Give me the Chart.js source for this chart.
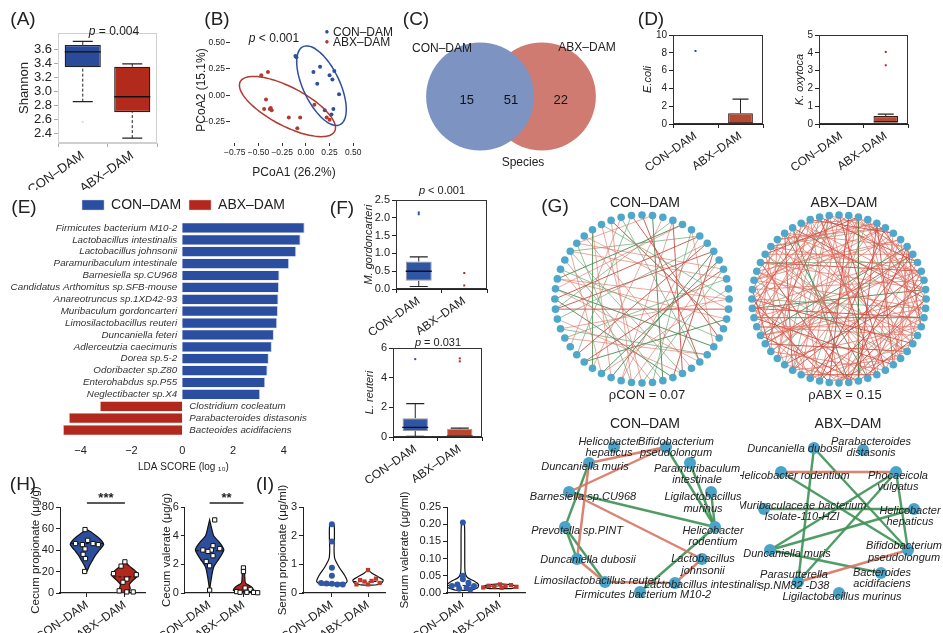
<!DOCTYPE html>
<html><head><meta charset="utf-8">
<script src="https://cdn.jsdelivr.net/npm/chart.js@4.4.1/dist/chart.umd.min.js"></script>
<style>
body{margin:0;background:#fff;}
#fig{position:relative;width:943px;height:633px;overflow:hidden;font-family:"Liberation Sans",Arial,sans-serif;color:#222;}
#fig canvas{position:absolute;}
.t{position:absolute;white-space:nowrap;transform:translate(-50%,-50%);line-height:1;}
.l{position:absolute;white-space:nowrap;transform:translate(0,-50%);line-height:1;}
</style></head><body><div id="fig"></div>
<script>
var groups = ['CON–DAM', 'ABX–DAM'];

// (A) Shannon box plot
var shQ1 = [3.35, 2.71], shMed = [3.57, 2.93], shQ3 = [3.67, 3.36];
var shLo = [2.86, 2.34], shHi = [3.72, 3.40], shOut = [[2.57], []];
var shTicks = [2.4, 2.6, 2.8, 3.0, 3.2, 3.4, 3.6];

// (B) PCoA
var pcConX = [-0.11, -0.10, 0.15, 0.08, 0.30, 0.25, 0.28, 0.12, 0.35, 0.29, 0.20, 0.27];
var pcConY = [0.37, 0.36, 0.27, 0.22, 0.23, 0.19, 0.15, 0.11, 0.01, -0.13, -0.14, -0.18];
var pcAbxX = [-0.47, -0.40, -0.42, -0.44, -0.37, -0.36, -0.38, -0.18, -0.06, -0.09, 0.09, 0.22, 0.25];
var pcAbxY = [0.19, 0.22, -0.04, -0.13, -0.12, -0.14, -0.13, -0.21, -0.21, -0.31, -0.09, -0.21, -0.23];
var pcTicksX = [-0.75, -0.5, -0.25, 0, 0.25, 0.5];
var pcTicksY = [-0.25, 0, 0.25, 0.5];
// ellipse: centre x, centre y, semi-axis 1 (dx, dy), semi-axis 2 (dx, dy)
var ellCon = [0.165, 0.091, 0.194, -0.368, -0.175, -0.073];
var ellAbx = [-0.194, -0.106, 0.4975, -0.2347, -0.0958, -0.16];

// (C) Venn
var vennCounts = [15, 51, 22];

// (D) E. coli / K. oxytoca
var ecQ1 = [0, 0.05], ecMed = [0, 0.08], ecQ3 = [0, 1.2], ecLo = [0, 0.05], ecHi = [0, 2.8], ecOut = [[8.2], []];
var koQ1 = [0, 0.1], koMed = [0, 0.12], koQ3 = [0, 0.45], koLo = [0, 0.1], koHi = [0, 0.55], koOut = [[], [3.3, 4.05]];
var ecTicks = [0, 2, 4, 6, 8, 10], koTicks = [0, 1, 2, 3, 4, 5];

// (E) LEfSe
var ldaTaxa = ['Firmicutes bacterium M10-2', 'Lactobacillus intestinalis', 'Lactobacillus johnsonii',
  'Paramuribaculum intestinale', 'Barnesiella sp.CU968', 'Candidatus Arthomitus sp.SFB-mouse',
  'Anareotruncus sp.1XD42-93', 'Muribaculum gordoncarteri', 'Limosilactobacillus reuteri',
  'Duncaniella feteri', 'Adlerceutzia caecimuris', 'Dorea sp.5-2', 'Odoribacter sp.Z80',
  'Enterohabdus sp.P55', 'Neglectibacter sp.X4', 'Clostridium cocleatum',
  'Parabacteroides distasonis', 'Bacteoides acidifaciens'];
var ldaScore = [4.82, 4.66, 4.49, 4.21, 3.83, 3.81, 3.79, 3.77, 3.74, 3.61, 3.53, 3.41, 3.36, 3.27, 3.07, -3.25, -4.47, -4.70];
var ldaTicks = [-4, -2, 0, 2, 4];

// (F) M. gordoncarteri / L. reuteri
var mgQ1 = [0.23, 0], mgMed = [0.5, 0], mgQ3 = [0.77, 0.02], mgLo = [0.07, 0], mgHi = [0.9, 0.02], mgOut = [[2.1, 2.15], [0.45, 0.1]];
var lrQ1 = [0.4, 0.02], lrMed = [0.65, 0.05], lrQ3 = [1.27, 0.55], lrLo = [0.05, 0], lrHi = [2.25, 0.6], lrOut = [[5.25], [5.1, 5.3]];
var mgTicks = [0, 0.5, 1, 1.5, 2, 2.5], lrTicks = [0, 2, 4, 6];

// (G) co-occurrence rings
var conRing = 52, abxRing = 56;
var conRed = '0 20,2 31,4 40,5 18,7 33,9 27,11 44,12 30,14 38,16 49,19 35,21 46,23 8,25 42,28 3,29 47,32 10,34 50,36 13,37 22,39 6,41 15,45 1,48 26,51 17,6 28,10 45,13 41,22 3,30 44,40 20,46 14,8 38,27 49';
var conGreen = '1 24,3 38,6 44,8 29,11 35,13 48,15 32,17 42,20 50,23 39,25 5,27 45,30 9,33 51,36 19,41 4,44 22,47 31,49 16,7 37,10 26,18 40,24 43';
var abxRed = '0 23,0 31,0 40,1 18,1 29,1 44,2 15,2 33,2 47,3 21,3 38,3 52,4 26,4 35,4 49,5 17,5 30,5 42,6 24,6 39,6 53,7 19,7 33,7 45,8 27,8 36,8 50,9 22,9 31,9 41,10 28,10 37,10 54,11 25,11 40,11 48,12 30,12 43,12 55,13 20,13 34,13 46,14 29,14 38,14 51,15 27,15 44,16 32,16 41,16 52,17 35,17 48,18 26,18 39,19 31,19 50,20 37,20 45,21 33,21 53,22 40,22 47,23 36,23 54,24 32,24 49,25 43,25 55,26 38,27 46,28 41,28 53,29 42,30 51,31 45,32 47,33 50,34 44,35 52,36 49,37 55,38 48,39 54,40 51,41 53,42 55,43 2,44 7,46 11,48 4,50 13,52 19,54 24,55 6,0 12,3 14,8 17,20 29,26 34,30 39,36 43,45 53,12 23,18 45,22 4,27 1,1 9,2 10,4 12,5 44,7 28,9 47,11 33,13 52,15 38,16 3,19 42,21 8,23 48,25 11,28 14,30 2,32 55,34 6,37 9,39 17,41 24,43 50,46 27,49 5,51 20,53 35';
var abxGreen = '2 26,5 48,9 36,13 41,17 28,21 44,25 50,31 3,34 54,38 8,42 15,47 20,51 27,55 33,10 46,40 16';

// (G) key-taxa sub-networks (layout coordinates inside each panel)
var conNames = ['Helicobacter\nhepaticus', 'Bifidobacterium\npseudolongum', 'Duncaniella muris', 'Paramuribaculum\nintestinale',
  'Barnesiella sp.CU968', 'Ligilactobacillus\nmurinus', 'Prevotella sp.PINT', 'Helicobacter\nrodentium',
  'Duncaniella dubosii', 'Lactobacillus\njohnsonii', 'Limosilactobacillus reuteri', 'Lactobacillus intestinalis',
  'Firmicutes bacterium M10-2'];
var conNodeX = [84, 136, 59, 160, 39, 181, 35, 185, 47, 172, 75, 145, 110];
var conNodeY = [12, 12, 28, 28, 57, 57, 92, 92, 124, 124, 147, 148, 157];
var conLabX = [79, 146, 55, 167, 53, 173, 47, 183, 58, 173, 67, 173, 113];
var conLabY = [12.5, 12.5, 32, 39.5, 62, 68, 96, 101.5, 125, 130, 146, 150, 160];
var conLinks = [[2, 1, -1], [4, 1, -1], [2, 8, -1], [8, 10, -1], [10, 11, -1], [11, 9, -1], [4, 9, -1],
  [2, 6, 1], [4, 7, 1], [1, 7, 1], [3, 7, 1], [5, 7, 1], [6, 8, 1], [6, 10, 1], [7, 12, 1]];
var abxNames = ['Duncaniella dubosii', 'Parabacteroides\ndistasonis', 'Helicobacter rodentium', 'Phocaeicola\nvulgatus',
  'Muribaculaceae bacterium\nIsolate-110-HZI', 'Helicobacter\nhepaticus', 'Duncaniella muris', 'Bifidobacterium\npseudolongum',
  'Parasutterella\nsp.NM82 -D38', 'Bacteroides\nacidifaciens', 'Ligilactobacillus murinus'];
var abxNodeX = [74, 123, 41, 156, 24, 174, 30, 168, 58, 141, 99];
var abxNodeY = [13, 15, 37, 37, 74, 74, 115, 115, 147, 138, 158];
var abxLabX = [55, 131, 53, 158, 62, 170, 47, 164, 54, 142, 102];
var abxLabY = [14, 12.5, 41, 46.5, 76.5, 81.5, 119, 117, 145.5, 143.5, 162];
var abxLinks = [[2, 3, -1], [8, 7, -1], [0, 8, 1], [0, 7, 1], [2, 7, 1], [6, 9, 1], [4, 5, 1], [3, 6, 1], [3, 8, 1], [3, 7, 1], [5, 6, 1]];

// (H) caecal SCFA
var cpCon = [59, 49, 46, 45, 46, 45, 41, 36, 32, 20];
var cpConDx = [-0.05, 0.02, -0.3, -0.12, 0.16, 0.3, -0.05, -0.1, -0.04, -0.06];
var cpAbx = [29, 25, 18, 17, 13, 10, 2, 1, 1];
var cpAbxDx = [0, -0.1, -0.3, 0.3, 0.05, -0.05, -0.15, 0.05, 0.22];
var cpShape = [[[20, 0], [25, 0.06], [30, 0.14], [35, 0.22], [40, 0.33], [45, 0.44], [49, 0.38], [53, 0.25], [57, 0.1], [59, 0]],
  [[0, 0.08], [4, 0.14], [8, 0.12], [12, 0.22], [17, 0.36], [21, 0.26], [25, 0.12], [29, 0]]];
var cpMed = [46, 15];
var cvCon = [5.1, 3.3, 3.1, 3.0, 3.0, 2.9, 2.6, 2.2, 1.9, 0.2];
var cvConDx = [0.15, 0.1, 0.3, -0.2, 0.05, -0.05, 0.1, -0.1, 0, 0];
var cvAbx = [1.75, 1.5, 0.35, 0.25, 0.1, 0.05, 0.05, 0.04, 0.02];
var cvAbxDx = [0, 0, 0.05, 0.2, -0.2, 0.1, -0.1, 0.3, 0.42];
var cvShape = [[[0.2, 0], [1, 0.05], [1.8, 0.12], [2.4, 0.28], [3, 0.42], [3.5, 0.3], [4, 0.12], [4.6, 0.05], [5.1, 0]],
  [[0, 0.12], [0.2, 0.3], [0.45, 0.22], [0.7, 0.06], [1.1, 0.04], [1.5, 0.03], [1.75, 0]]];
var cvMed = [2.95, 0.1];

// (I) serum SCFA
var spCon = [2.4, 1.8, 0.88, 0.6, 0.35, 0.33, 0.32, 0.3, 0.3];
var spConDx = [0, 0, 0, 0, -0.3, -0.15, 0, 0.15, 0.3];
var spAbx = [0.8, 0.5, 0.45, 0.42, 0.4, 0.35, 0.3, 0.3];
var spAbxDx = [0, 0.22, -0.22, 0.1, -0.1, 0.32, -0.32, 0];
var spShape = [[[0.28, 0.3], [0.4, 0.42], [0.6, 0.36], [0.9, 0.2], [1.2, 0.08], [1.5, 0.06], [2.0, 0.07], [2.38, 0.06], [2.42, 0]],
  [[0.28, 0.2], [0.35, 0.38], [0.45, 0.42], [0.55, 0.3], [0.7, 0.1], [0.8, 0]]];
var spMed = [0.35, 0.4];
var svCon = [0.205, 0.05, 0.04, 0.03, 0.025, 0.02, 0.02, 0.015, 0.012, 0.01];
var svConDx = [0, 0, 0, 0.15, -0.15, 0.3, -0.3, 0.1, -0.1, 0.2];
var svAbx = [0.025, 0.023, 0.021, 0.02, 0.019, 0.018, 0.016, 0.015];
var svAbxDx = [0, 0.3, -0.3, 0.15, -0.15, 0.45, -0.45, 0.05];
var svShape = [[[0.008, 0.2], [0.015, 0.4], [0.025, 0.42], [0.035, 0.3], [0.045, 0.12], [0.06, 0.06], [0.1, 0.05], [0.16, 0.05], [0.2, 0.04], [0.205, 0]],
  [[0.013, 0.3], [0.018, 0.45], [0.023, 0.35], [0.027, 0]]];
var svMed = [0.022, 0.02];

var FONT = '"Liberation Sans", Arial, sans-serif';
Chart.defaults.font.family = FONT;
Chart.defaults.color = '#222';
Chart.defaults.animation = false;
Chart.defaults.responsive = false;
Chart.defaults.layout.autoPadding = false;
Chart.defaults.plugins.legend.display = false;
Chart.defaults.plugins.tooltip.enabled = false;

var fig = document.getElementById('fig');

function mk(left, top, w, h) {
  var c = document.createElement('canvas');
  c.width = w; c.height = h;
  c.style.left = left + 'px'; c.style.top = top + 'px';
  c.style.width = w + 'px'; c.style.height = h + 'px';
  fig.appendChild(c);
  return c;
}
function txt(x, y, html, size, cls, extra) {
  var d = document.createElement('div');
  d.className = cls || 't';
  d.style.left = x + 'px'; d.style.top = y + 'px';
  d.style.fontSize = size + 'px';
  if (extra) d.style.cssText += extra;
  d.innerHTML = html;
  fig.appendChild(d);
}
function minus(v, dec) { return (dec == null ? String(v) : v.toFixed(dec)).replace('-', '−'); }

// frame around the plotting area
Chart.register({
  id: 'frame',
  afterDraw: function (c, a, o) {
    if (!o || !o.color) return;
    var ca = c.chartArea, x = c.ctx;
    x.save(); x.strokeStyle = o.color; x.lineWidth = 1;
    x.strokeRect(ca.left + 0.5, ca.top + 0.5, ca.right - ca.left - 1, ca.bottom - ca.top - 1);
    x.restore();
  }
});

function yAxis(o) {
  return {
    min: o.min, max: o.max,
    afterFit: function (s) { s.width = o.w; },
    afterBuildTicks: function (s) { s.ticks = o.ticks.map(function (v) { return {value: v}; }); },
    ticks: {font: {size: o.fs}, color: '#222', padding: o.tpad == null ? 2 : o.tpad, autoSkip: false,
      callback: o.fmt || function (v) { return v; }},
    grid: {display: true, drawOnChartArea: false, tickLength: 4, color: o.gc || '#222'},
    border: {display: o.border !== false, color: o.bc || '#222'},
    title: {display: !!o.title, text: o.title, color: '#222',
      font: {size: o.tfs || 12, style: o.italic ? 'italic' : 'normal'}, padding: {top: o.tp || 0, bottom: 0}}
  };
}
function xCat(o) {
  return {
    afterFit: function (s) { s.height = o.h; },
    ticks: {font: {size: o.fs}, color: '#222', maxRotation: 35, minRotation: 35, padding: 1, autoSkip: false},
    grid: {display: true, drawOnChartArea: false, tickLength: 4, color: o.gc || '#222'},
    border: {color: o.bc || '#222'}
  };
}
function seg(g, a, b, dash) {
  return {type: 'line', data: [{x: g, y: a}, {x: g, y: b}], borderColor: '#222', borderWidth: 1,
    borderDash: dash || [], pointRadius: 0, order: 3};
}
function boxSets(q1, med, q3, lo, hi, out, o) {
  var sets = [{
    type: 'bar', data: groups.map(function (g, i) { return [q1[i], q3[i]]; }),
    backgroundColor: o.fill, borderColor: o.edge, borderWidth: o.bw, borderSkipped: false,
    barPercentage: o.bp, categoryPercentage: 1, order: 2
  }];
  var caps = [];
  groups.forEach(function (g, i) {
    if (hi[i] > q3[i]) { sets.push(seg(g, q3[i], hi[i], o.dash)); caps.push({x: g, y: hi[i]}); }
    if (lo[i] < q1[i]) { sets.push(seg(g, lo[i], q1[i], o.dash)); caps.push({x: g, y: lo[i]}); }
  });
  sets.push({type: 'line', data: caps, showLine: false, pointStyle: 'line', pointRadius: o.cap,
    pointBorderColor: '#222', pointBorderWidth: 1.2, order: 1});
  sets.push({type: 'line', data: groups.map(function (g, i) { return {x: g, y: med[i]}; }), showLine: false,
    pointStyle: 'line', pointRadius: o.medR, pointBorderColor: o.medC || '#111', pointBorderWidth: 1.4, order: 0});
  groups.forEach(function (g, i) {
    sets.push({type: 'line', data: out[i].map(function (v) { return {x: g, y: v}; }), showLine: false,
      pointStyle: 'rect', pointRadius: 1.4, pointBackgroundColor: o.dot[i], pointBorderWidth: 0, order: 0});
  });
  return sets;
}

// ---------- (A)
new Chart(mk(0, 0, 170, 190), {
  type: 'bar',
  data: {labels: groups, datasets: boxSets(shQ1, shMed, shQ3, shLo, shHi, shOut,
    {fill: ['#2a4a9a', '#b22a1c'], edge: '#222', bw: 1.3, bp: 0.73, dash: [3, 2], cap: 10, medR: 18, dot: ['#ddd', '#ddd']})},
  options: {
    layout: {padding: {top: 33, right: 13, left: 0, bottom: 0}},
    plugins: {frame: {color: '#d0d0d0'}},
    scales: {
      x: xCat({h: 47, fs: 13, gc: '#aaa', bc: '#d0d0d0'}),
      y: yAxis({min: 2.27, max: 3.84, w: 58, ticks: shTicks, fs: 13, gc: '#aaa', bc: '#d0d0d0',
        fmt: function (v) { return v.toFixed(1); }, title: 'Shannon', tfs: 13, tp: 17})
    }
  }
});

// ---------- (B)
function ellipse(e) {
  var pts = [];
  for (var k = 0; k <= 72; k++) {
    var t = k / 72 * 2 * Math.PI;
    pts.push({x: e[0] + e[2] * Math.cos(t) + e[4] * Math.sin(t), y: e[1] + e[3] * Math.cos(t) + e[5] * Math.sin(t)});
  }
  return pts;
}
function xy(xs, ys) { return xs.map(function (v, i) { return {x: v, y: ys[i]}; }); }
new Chart(mk(192, 15, 200, 175), {
  type: 'scatter',
  data: {datasets: [
    {data: ellipse(ellCon), showLine: true, borderColor: '#2e4f9e', borderWidth: 1.5, pointRadius: 0, tension: 0.4},
    {data: ellipse(ellAbx), showLine: true, borderColor: '#b23a30', borderWidth: 1.5, pointRadius: 0, tension: 0.4},
    {data: xy(pcConX, pcConY), pointRadius: 2, backgroundColor: '#2e4f9e', borderWidth: 0},
    {data: xy(pcAbxX, pcAbxY), pointRadius: 2, backgroundColor: '#b23a30', borderWidth: 0}
  ]},
  options: {
    layout: {padding: {top: 22, right: 34, left: 0, bottom: 0}},
    scales: {
      x: {min: -0.8, max: 0.55,
        afterFit: function (s) { s.height = 47; },
        afterBuildTicks: function (s) { s.ticks = pcTicksX.map(function (v) { return {value: v}; }); },
        ticks: {font: {size: 8.5}, color: '#222', padding: 2, maxRotation: 0, autoSkip: false,
          callback: function (v) { return minus(v, 2); }},
        grid: {drawOnChartArea: false, tickLength: 3, color: '#333'}, border: {display: false},
        title: {display: true, text: 'PCoA1 (26.2%)', font: {size: 12}, color: '#222', padding: {top: 0, bottom: 10}}},
      y: yAxis({min: -0.45, max: 0.55, w: 38, ticks: pcTicksY, fs: 8.5, gc: '#333', border: false, tpad: 1,
        fmt: function (v) { return minus(v, 2); }, title: 'PCoA2 (15.1%)', tfs: 12, tp: 2})
    }
  }
});

// ---------- (C) Venn
new Chart(mk(416, 34, 190, 125), {
  type: 'bubble',
  data: {datasets: [
    {data: [{x: -0.52, y: 0, r: 54}], backgroundColor: 'rgb(125,147,193)', borderWidth: 0, clip: false},
    {data: [{x: 0.52, y: 0, r: 54}], backgroundColor: 'rgba(177,35,20,0.6)', borderWidth: 0, clip: false}
  ]},
  options: {
    layout: {autoPadding: false, padding: 0},
    scales: {x: {display: false, min: -1.6, max: 1.6}, y: {display: false, min: -1, max: 1}}
  },
  plugins: [{
    id: 'vennCounts',
    afterDatasetsDraw: function (c) {
      var xs = c.scales.x, ys = c.scales.y, ctx = c.ctx;
      var r = 54, xb = xs.getPixelForValue(-0.52), xr = xs.getPixelForValue(0.52), y = ys.getPixelForValue(0) + 4;
      var pos = [xb - r * 0.25, (xb + xr) / 2, xr + r * 0.35];
      ctx.save(); ctx.font = '13px ' + FONT; ctx.fillStyle = '#111';
      ctx.textAlign = 'center'; ctx.textBaseline = 'middle';
      vennCounts.forEach(function (n, k) { ctx.fillText(n, pos[k], y); });
      ctx.restore();
    }
  }]
});

// ---------- (D)
function smallBox(canvas, st, ticks, max, title, tp, padR) {
  new Chart(canvas, {
    type: 'bar',
    data: {labels: groups, datasets: boxSets(st[0], st[1], st[2], st[3], st[4], st[5],
      {fill: ['#9fb3dd', '#b34a35'], edge: ['#c8d2ea', '#3a1a14'], bw: 1.2, bp: 0.55, cap: 8, medR: 12,
        medC: '#3a1a14', dot: ['#2b4c9b', '#b3281d']})},
    options: {
      layout: {padding: {top: 15, right: padR, left: 0, bottom: 0}},
      plugins: {frame: {color: '#333'}},
      scales: {
        x: xCat({h: 61, fs: 12}),
        y: yAxis({min: 0, max: max, w: 43, ticks: ticks, fs: 10, title: title, tfs: 11, italic: true, tp: tp})
      }
    }
  });
}
smallBox(mk(630, 20, 140, 165), [ecQ1, ecMed, ecQ3, ecLo, ecHi, ecOut], ecTicks, 10, 'E.coli', 11, 7);
smallBox(mk(776, 20, 140, 165), [koQ1, koMed, koQ3, koLo, koHi, koOut], koTicks, 5, 'K. oxytoca', 17, 8);

// ---------- (E)
new Chart(mk(0, 190, 330, 290), {
  type: 'bar',
  data: {labels: ldaTaxa, datasets: [
    {label: 'CON–DAM', data: ldaScore.map(function (v) { return v > 0 ? v : null; }), backgroundColor: '#2c4ea0',
      borderColor: 'rgba(200,210,235,0.9)', borderWidth: {right: 1, top: 0.5, bottom: 0.5, left: 0}, borderSkipped: false},
    {label: 'ABX–DAM', data: ldaScore.map(function (v) { return v < 0 ? v : null; }), backgroundColor: '#b3281d',
      borderColor: 'rgba(235,200,195,0.9)', borderWidth: {left: 1, top: 0.5, bottom: 0.5, right: 0}, borderSkipped: false}
  ]},
  options: {
    indexAxis: 'y',
    datasets: {bar: {grouped: false, barPercentage: 0.86, categoryPercentage: 1}},
    layout: {padding: {top: 0, right: 22, left: 59, bottom: 0}},
    plugins: {legend: {display: true, position: 'top',
      labels: {boxWidth: 22, boxHeight: 10, padding: 8, color: '#222', font: {size: 14}}}},
    scales: {
      y: {display: false},
      x: {min: -4.85, max: 4.95,
        afterFit: function (s) { s.height = 44; },
        afterBuildTicks: function (s) { s.ticks = ldaTicks.map(function (v) { return {value: v}; }); },
        ticks: {font: {size: 11}, color: '#222', padding: 0, maxRotation: 0, autoSkip: false,
          callback: function (v) { return minus(v); }},
        grid: {display: false}, border: {display: false},
        title: {display: true, text: 'LDA SCORE (log ₁₀)', font: {size: 10}, color: '#222', padding: {top: 0, bottom: 7}}}
    }
  },
  plugins: [{
    id: 'taxaNames',
    afterDatasetsDraw: function (c) {
      var xs = c.scales.x, ys = c.scales.y, ctx = c.ctx, x0 = xs.getPixelForValue(0);
      ctx.save(); ctx.font = 'italic 9.8px ' + FONT; ctx.fillStyle = '#333'; ctx.textBaseline = 'middle';
      ldaTaxa.forEach(function (name, i) {
        var y = ys.getPixelForValue(i);
        if (ldaScore[i] > 0) { ctx.textAlign = 'right'; ctx.fillText(name, x0 - 5, y); }
        else { ctx.textAlign = 'left'; ctx.fillText(name, x0 + 7, y); }
      });
      ctx.restore();
    }
  }]
});

// ---------- (F)
function fBox(canvas, st, ticks, max, title, w, padR, tp, fmt) {
  new Chart(canvas, {
    type: 'bar',
    data: {labels: groups, datasets: boxSets(st[0], st[1], st[2], st[3], st[4], st[5],
      {fill: ['#2f55a6', '#b8452d'], edge: ['#999', '#999'], bw: 1, bp: 0.57, cap: 9, medR: 13,
        dot: ['#2b4c9b', '#b3281d']})},
    options: {
      layout: {padding: {top: 15, right: padR, left: 0, bottom: 0}},
      plugins: {frame: {color: '#333'}},
      scales: {
        x: xCat({h: 46, fs: 12}),
        y: yAxis({min: 0, max: max, w: w, ticks: ticks, fs: 11, fmt: fmt, title: title, tfs: 11, italic: true, tp: tp})
      }
    }
  });
}
fBox(mk(340, 185, 155, 150), [mgQ1, mgMed, mgQ3, mgLo, mgHi, mgOut], mgTicks, 2.5, 'M. gordoncarteri', 56, 8, 22,
  function (v) { return v.toFixed(1); });
fBox(mk(340, 333, 155, 150), [lrQ1, lrMed, lrQ3, lrLo, lrHi, lrOut], lrTicks, 6, 'L. reuteri', 53, 13, 23);

// ---------- (G) rings
function pairs(s) { return s.split(',').map(function (p) { return p.trim().split(' ').map(Number); }); }
function ring(canvas, n, redStr, greenStr, redA) {
  var nodes = [];
  for (var i = 0; i < n; i++) {
    var a = Math.PI / 2 - 2 * Math.PI * i / n;
    nodes.push({x: Math.cos(a), y: Math.sin(a)});
  }
  var sets = [];
  pairs(redStr).forEach(function (p, k) {
    sets.push({data: [nodes[p[0] % n], nodes[p[1] % n]], showLine: true, pointRadius: 0, borderWidth: 1,
      borderColor: k % 4 === 0 ? 'rgba(196,72,60,0.85)' : 'rgba(222,110,95,' + redA + ')', order: 2});
  });
  pairs(greenStr).forEach(function (p, k) {
    sets.push({data: [nodes[p[0] % n], nodes[p[1] % n]], showLine: true, pointRadius: 0, borderWidth: 1,
      borderColor: k % 3 === 0 ? 'rgba(60,130,75,0.85)' : 'rgba(95,160,105,0.65)', order: 2});
  });
  sets.push({data: nodes, pointRadius: 3.8, backgroundColor: '#4fa7c9', borderWidth: 0, order: 0, clip: false});
  new Chart(canvas, {
    type: 'scatter', data: {datasets: sets},
    options: {layout: {autoPadding: false},
      scales: {x: {display: false, min: -1.09, max: 1.09}, y: {display: false, min: -1.13, max: 1.13}}}
  });
}
ring(mk(547, 204, 190, 190), conRing, conRed, conGreen, 0.6);
ring(mk(744, 204, 190, 190), abxRing, abxRed, abxGreen, 0.7);

// ---------- (G) sub-networks
function subNet(canvas, w, h, names, nx, ny, lx, ly, links) {
  var sets = links.map(function (l) {
    return {data: [{x: nx[l[0]], y: ny[l[0]]}, {x: nx[l[1]], y: ny[l[1]]}], showLine: true, pointRadius: 0,
      borderWidth: 2.4, borderColor: l[2] > 0 ? 'rgba(62,145,85,0.9)' : 'rgba(214,118,98,0.9)', order: 2};
  });
  sets.push({data: xy(nx, ny), pointRadius: 6, backgroundColor: '#4aa4c9', borderWidth: 0, order: 0, clip: false});
  new Chart(canvas, {
    type: 'scatter', data: {datasets: sets},
    options: {layout: {autoPadding: false},
      scales: {x: {display: false, min: 0, max: w}, y: {display: false, min: 0, max: h, reverse: true}}},
    plugins: [{
      id: 'netLabels',
      afterDatasetsDraw: function (c) {
        var xs = c.scales.x, ys = c.scales.y, ctx = c.ctx;
        ctx.save(); ctx.font = 'italic 11px ' + FONT; ctx.fillStyle = '#222';
        ctx.textAlign = 'center'; ctx.textBaseline = 'middle';
        names.forEach(function (nm, i) {
          var lines = nm.split('\n'), x = xs.getPixelForValue(lx[i]), y = ys.getPixelForValue(ly[i]);
          lines.forEach(function (ln, k) { ctx.fillText(ln, x, y + (k - (lines.length - 1) / 2) * 11.5); });
        });
        ctx.restore();
      }
    }]
  });
}
subNet(mk(530, 435, 230, 170), 230, 170, conNames, conNodeX, conNodeY, conLabX, conLabY, conLinks);
subNet(mk(740, 435, 203, 170), 203, 170, abxNames, abxNodeX, abxNodeY, abxLabX, abxLabY, abxLinks);

// ---------- (H) & (I) violins
function widthAt(shape, y) {
  for (var k = 1; k < shape.length; k++) {
    if (y <= shape[k][0]) {
      var a = shape[k - 1], b = shape[k], f = (y - a[0]) / (b[0] - a[0] || 1);
      return a[1] + f * (b[1] - a[1]);
    }
  }
  return 0;
}
function violin(canvas, o) {
  var sets = [];
  o.shape.forEach(function (sh, i) {
    var left = sh.map(function (p) { return {x: i - p[1], y: p[0]}; });
    var right = sh.slice().reverse().map(function (p) { return {x: i + p[1], y: p[0]}; });
    sets.push({data: left.concat(right, [left[0]]), showLine: true, fill: 'shape', tension: 0.25,
      backgroundColor: o.vfill[i], borderColor: '#111', borderWidth: 1.2, pointRadius: 0, order: 3});
    var wm = widthAt(sh, o.med[i]);
    sets.push({data: [{x: i - wm, y: o.med[i]}, {x: i + wm, y: o.med[i]}], showLine: true, pointRadius: 0,
      borderColor: '#111', borderWidth: 1, borderDash: [3, 2], order: 2});
  });
  [0, 1].forEach(function (i) {
    sets.push({data: o.pts[i].map(function (v, k) { return {x: i + o.dx[i][k], y: v}; }), clip: false,
      pointStyle: o.ps[i], pointRadius: o.pr[i], backgroundColor: o.pf[i], borderColor: o.pb[i], borderWidth: o.pbw, order: 0});
  });
  new Chart(canvas, {
    type: 'scatter', data: {datasets: sets},
    options: {
      layout: {autoPadding: false, padding: {top: 37, right: o.padR, left: 0, bottom: 0}},
      scales: {
        x: {type: 'linear', min: o.xmin, max: o.xmax,
          afterFit: function (s) { s.height = 42; },
          afterBuildTicks: function (s) { s.ticks = [{value: 0}, {value: 1}]; },
          ticks: {font: {size: 12}, color: '#222', maxRotation: 35, minRotation: 35, padding: 1, autoSkip: false,
            callback: function (v) { return groups[v]; }},
          grid: {drawOnChartArea: false, tickLength: 4, color: '#222'}, border: {color: '#222', width: 1.2}},
        y: yAxis({min: 0, max: o.ymax, w: o.w, ticks: o.ticks, fs: 11, fmt: o.fmt, title: o.title, tfs: 11.5, tp: o.tp})
      }
    },
    plugins: [{
      id: 'sig',
      afterDraw: function (c) {
        if (!o.sig) return;
        var xs = c.scales.x, ctx = c.ctx, y = c.chartArea.top - 4;
        ctx.save(); ctx.strokeStyle = '#222'; ctx.lineWidth = 1.3;
        ctx.beginPath(); ctx.moveTo(xs.getPixelForValue(0), y); ctx.lineTo(xs.getPixelForValue(1), y); ctx.stroke();
        ctx.font = 'bold 13px ' + FONT; ctx.fillStyle = '#222'; ctx.textAlign = 'center'; ctx.textBaseline = 'alphabetic';
        ctx.fillText(o.sig, (xs.getPixelForValue(0) + xs.getPixelForValue(1)) / 2, y - 1);
        ctx.restore();
      }
    }]
  });
}
var hStyle = {ps: ['rect', 'rect'], pr: [3, 3], pf: ['#fff', '#fff'], pb: ['#111', '#111'], pbw: 1,
  vfill: ['#2c4e9d', '#b3281d']};
var iStyle = {ps: ['circle', 'rect'], pr: [3, 3], pf: ['#2f58a8', '#c0392b'], pb: ['#2f58a8', '#c0392b'], pbw: 0,
  vfill: ['rgba(255,255,255,0)', 'rgba(255,255,255,0)']};
function ext(a, b) { var r = {}; for (var k in a) r[k] = a[k]; for (var j in b) r[j] = b[j]; return r; }

violin(mk(20, 470, 135, 165), ext(hStyle, {shape: cpShape, med: cpMed, pts: [cpCon, cpAbx], dx: [cpConDx, cpAbxDx],
  xmin: -0.71, xmax: 1.53, ymax: 80, ticks: [0, 20, 40, 60, 80], w: 40, padR: 10, tp: 9,
  title: 'Cecum propionate (μg/g)', sig: '***'}));
violin(mk(150, 470, 115, 165), ext(hStyle, {shape: cvShape, med: cvMed, pts: [cvCon, cvAbx], dx: [cvConDx, cvAbxDx],
  xmin: -0.73, xmax: 1.43, ymax: 6, ticks: [0, 2, 4, 6], w: 28, padR: 7, tp: 3,
  title: 'Cecum valerate (μg/g)', sig: '**'}));
violin(mk(270, 470, 125, 165), ext(iStyle, {shape: spShape, med: spMed, pts: [spCon, spAbx], dx: [spConDx, spAbxDx],
  xmin: -0.8, xmax: 1.47, ymax: 3, ticks: [0, 1, 2, 3], w: 33, padR: 10, tp: 6,
  title: 'Serum propionate (μg/ml)'}));
violin(mk(390, 470, 140, 165), ext(iStyle, {shape: svShape, med: svMed, pts: [svCon, svAbx], dx: [svConDx, svAbxDx],
  xmin: -0.43, xmax: 1.68, ymax: 0.25, ticks: [0, 0.05, 0.1, 0.15, 0.2, 0.25], w: 57, padR: 5, tp: 8,
  fmt: function (v) { return v.toFixed(2); }, title: 'Serum valerate (μg/ml)'}));

// ---------- text annotations
[['(A)', 23, 18], ['(B)', 217, 18], ['(C)', 416, 18], ['(D)', 651, 18], ['(E)', 24, 206],
 ['(F)', 342, 207], ['(G)', 555, 205], ['(H)', 23, 483], ['(I)', 265, 483]].forEach(function (p) {
  txt(p[1], p[2], p[0], 19);
});
txt(114, 31, '<i>p</i> = 0.004', 12);
txt(274, 38, '<i>p</i> &lt; 0.001', 12);
txt(327, 32, '●', 8, 't', 'color:#2e4f9e');
txt(327, 42, '●', 8, 't', 'color:#b23a30');
txt(333, 32, 'CON–DAM', 12, 'l');
txt(333, 42, 'ABX–DAM', 12, 'l');
txt(442, 48, 'CON–DAM', 12);
txt(587, 47, 'ABX–DAM', 12);
txt(523, 162, 'Species', 12);
txt(442, 190, '<i>p</i> &lt; 0.001', 11);
txt(438, 342, '<i>p</i> = 0.031', 11);
txt(645, 202, 'CON–DAM', 14);
txt(844, 202, 'ABX–DAM', 14);
txt(647, 394, 'ρCON = 0.07', 13);
txt(845, 394, 'ρABX = 0.15', 13);
txt(645, 423, 'CON–DAM', 14);
txt(848, 423, 'ABX–DAM', 14);
</script>
</body></html>
